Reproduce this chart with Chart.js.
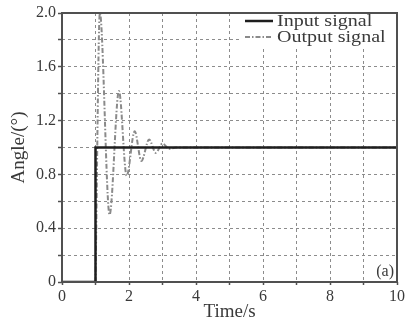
<!DOCTYPE html>
<html>
<head>
<meta charset="utf-8">
<script src="https://cdn.jsdelivr.net/npm/chart.js@4"></script>
<style>
  html, body { margin: 0; padding: 0; background: #fff; }
  #wrap { width: 407px; height: 322px; }
</style>
</head>
<body>
<div id="wrap"><canvas id="c" width="407" height="322"></canvas></div>
<script>
// ---- data ----
const inputTime   = [0, 1.0, 1.0, 10];
const inputAngle  = [0, 0, 1.0, 1.0];
const outputTime  = [1.0, 1.13, 1.42, 1.70, 1.93, 2.17, 2.37, 2.60, 2.80, 3.00, 3.20, 3.40, 10];
const outputAngle = [0, 2.0, 0.50, 1.42, 0.79, 1.12, 0.90, 1.06, 0.96, 1.03, 0.99, 1.00, 1.00];
const xTickLabels = ['0', '2', '4', '6', '8', '10'];
const yTickLabels = ['0', '0.4', '0.8', '1.2', '1.6', '2.0'];
const seriesNames = ['Input signal', 'Output signal'];
const panelLabel  = '(a)';

const FONT = "'Liberation Serif', 'DejaVu Serif', serif";
const TXT = '#3a3a3a';

const toXY = (xs, ys) => xs.map((x, i) => ({ x: x, y: ys[i] }));

const framePlugin = {
  id: 'frame',
  afterDatasetsDraw(chart) {
    const { ctx, chartArea: a } = chart;
    ctx.save();
    // legend background
    const lx = a.right - 157, ly = a.top + 1;
    ctx.fillStyle = '#fff';
    ctx.fillRect(lx, ly, a.right - lx - 1, 33);
    // legend samples
    const ds = chart.data.datasets;
    const rows = [a.top + 8, a.top + 24];
    ds.forEach((d, i) => {
      ctx.beginPath();
      ctx.strokeStyle = d.borderColor;
      ctx.lineWidth = d.borderWidth;
      ctx.setLineDash(d.borderDash || []);
      ctx.moveTo(lx + 5, rows[i]);
      ctx.lineTo(lx + 33, rows[i]);
      ctx.stroke();
      ctx.setLineDash([]);
      ctx.save();
      ctx.translate(lx + 37, rows[i]);
      ctx.scale(1.18, 1);
      ctx.fillStyle = TXT;
      ctx.font = "17px " + FONT;
      ctx.textBaseline = 'middle';
      ctx.textAlign = 'left';
      ctx.fillText(seriesNames[i], 0, 1);
      ctx.restore();
    });
    // panel label
    ctx.fillStyle = TXT;
    ctx.font = "16px " + FONT;
    ctx.textAlign = 'right';
    ctx.textBaseline = 'alphabetic';
    ctx.fillText(panelLabel, a.right - 3, a.bottom - 6);
    // frame
    ctx.strokeStyle = '#505050';
    ctx.lineWidth = 2;
    ctx.strokeRect(a.left, a.top, a.right - a.left, a.bottom - a.top);
    ctx.restore();
  }
};

new Chart(document.getElementById('c'), {
  type: 'line',
  data: {
    datasets: [
      {
        label: seriesNames[0],
        data: toXY(inputTime, inputAngle),
        borderColor: '#1e1e1e',
        borderWidth: 2.5,
        pointRadius: 0,
        tension: 0,
        order: 1
      },
      {
        label: seriesNames[1],
        data: toXY(outputTime, outputAngle),
        borderColor: '#8a8a8a',
        borderWidth: 2,
        borderDash: [5, 2, 1.5, 2],
        pointRadius: 0,
        cubicInterpolationMode: 'monotone',
        order: 2
      }
    ]
  },
  options: {
    responsive: false,
    animation: false,
    layout: { padding: { top: 13, right: 7, left: 0, bottom: 0 } },
    plugins: { legend: { display: false }, tooltip: { enabled: false } },
    scales: {
      x: {
        type: 'linear',
        min: 0, max: 10,
        afterFit: s => { s.height = 40; },
        ticks: {
          stepSize: 1,
          autoSkip: false,
          maxRotation: 0,
          padding: 2,
          color: TXT,
          font: { family: FONT, size: 16 },
          callback: v => (v % 2 === 0 ? xTickLabels[v / 2] : '')
        },
        grid: {
          color: '#8c8c8c',
          lineWidth: 1,
          tickLength: 3,
          tickColor: '#505050',
          tickWidth: 1.5
        },
        border: { display: false, dash: [3, 3] },
        title: {
          display: true,
          text: 'Time/s',
          color: TXT,
          font: { family: FONT, size: 19, lineHeight: 1.0 },
          padding: { top: 0, bottom: 0 }
        }
      },
      y: {
        min: 0, max: 2.0,
        afterFit: s => { s.width = 62; },
        ticks: {
          stepSize: 0.2,
          autoSkip: false,
          padding: 2,
          color: TXT,
          font: { family: FONT, size: 16 },
          callback: v => {
            const k = Math.round(v / 0.2);
            return k % 2 === 0 ? yTickLabels[k / 2] : '';
          }
        },
        grid: {
          color: '#8c8c8c',
          lineWidth: 1,
          tickLength: 4,
          tickColor: '#505050',
          tickWidth: 1.5
        },
        border: { display: false, dash: [3, 3] },
        title: {
          display: true,
          text: 'Angle/(°)',
          color: TXT,
          font: { family: FONT, size: 19, lineHeight: 1.2 },
          padding: { top: 8, bottom: 0 }
        }
      }
    }
  },
  plugins: [framePlugin]
});
</script>
</body>
</html>
